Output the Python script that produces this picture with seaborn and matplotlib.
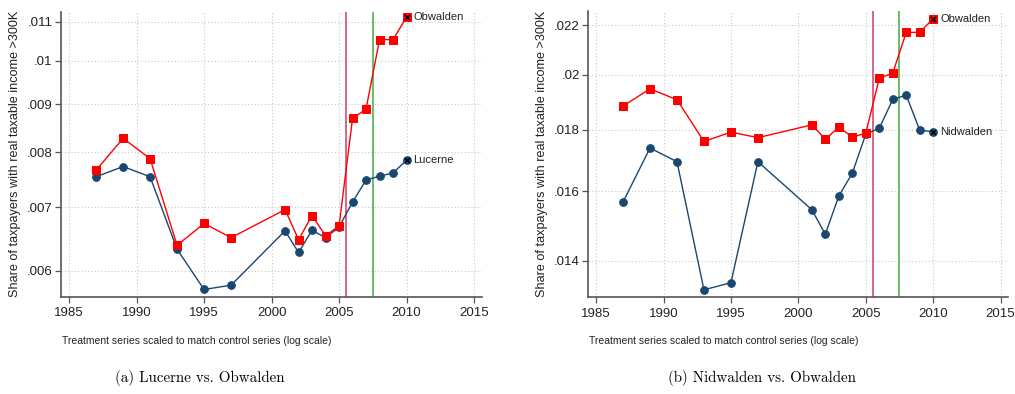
import matplotlib
matplotlib.use("Agg")
import matplotlib.pyplot as plt
import matplotlib.ticker as mticker
import seaborn as sns
import pandas as pd

years = [1987, 1989, 1991, 1993, 1995, 1997, 2001, 2002, 2003, 2004, 2005,
         2006, 2007, 2008, 2009, 2010]

# Panel (a): Lucerne (control) vs. Obwalden (treatment, scaled)
obwalden_a = [0.00766, 0.00828, 0.00788, 0.00638, 0.00673, 0.00650, 0.00696,
              0.00647, 0.00686, 0.00653, 0.00669, 0.00869, 0.00889, 0.01053,
              0.01053, 0.01112]
lucerne = [0.00754, 0.00773, 0.00754, 0.00632, 0.00573, 0.00579, 0.00661,
           0.00627, 0.00662, 0.00650, 0.00667, 0.00709, 0.00748, 0.00755,
           0.00761, 0.00785]

# Panel (b): Nidwalden (control) vs. Obwalden (treatment, scaled)
obwalden_b = [0.01884, 0.01947, 0.01907, 0.01760, 0.01792, 0.01773, 0.01817,
              0.01768, 0.01809, 0.01775, 0.01788, 0.01987, 0.02007, 0.02170,
              0.02170, 0.02228]
nidwalden = [0.01567, 0.01738, 0.01693, 0.01324, 0.01342, 0.01693, 0.01544,
             0.01473, 0.01585, 0.01656, 0.01785, 0.01805, 0.01908, 0.01924,
             0.01799, 0.01793]

yticks_a = [0.006, 0.007, 0.008, 0.009, 0.010, 0.011]
ytick_labels_a = [".006", ".007", ".008", ".009", ".01", ".011"]
yticks_b = [0.014, 0.016, 0.018, 0.020, 0.022]
ytick_labels_b = [".014", ".016", ".018", ".02", ".022"]
xticks = [1985, 1990, 1995, 2000, 2005, 2010, 2015]
reform_years = [2005.5, 2007.5]

ylabel = "Share of taxpayers with real taxable income >300K"
xlabel = "Treatment series scaled to match control series (log scale)"
captions = ["(a) Lucerne vs. Obwalden", "(b) Nidwalden vs. Obwalden"]

sns.set_theme(style="white")
plt.rcParams['font.family'] = ['Liberation Sans', 'DejaVu Sans']

RED = "#ff0000"
NAVY = "#1a476f"
VLINE_COLORS = ["#d9587c", "#5cb85c"]
SPINE = "#555555"

fig = plt.figure(figsize=(10.15, 3.94), dpi=100)
ax_a = fig.add_axes([0.0601, 0.2462, 0.4145, 0.7241])
ax_b = fig.add_axes([0.5793, 0.2454, 0.4141, 0.7267])

panels = [
    (ax_a, obwalden_a, lucerne, "Lucerne", yticks_a, ytick_labels_a, (0.005626, 0.01127)),
    (ax_b, obwalden_b, nidwalden, "Nidwalden", yticks_b, ytick_labels_b, (0.01305, 0.02261)),
]

for ax, treat, ctrl, cname, yt, ytl, ylim in panels:
    ax.set_yscale("log")
    # grid
    for xt in xticks:
        ax.axvline(xt, color="#c8c8c8", lw=0.8, ls=(0, (1, 2)), zorder=0)
    for y in yt:
        ax.axhline(y, color="#c8c8c8", lw=0.8, ls=(0, (1, 2)), zorder=0)
    for xv, c in zip(reform_years, VLINE_COLORS):
        ax.axvline(xv, color=c, lw=1.3, zorder=1)
    df_t = pd.DataFrame({"year": years, "val": treat})
    df_c = pd.DataFrame({"year": years, "val": ctrl})
    sns.lineplot(data=df_c, x="year", y="val", ax=ax, color=NAVY, lw=1.0,
                 marker="o", markersize=5.5, markeredgecolor=NAVY, zorder=3)
    sns.lineplot(data=df_t, x="year", y="val", ax=ax, color=RED, lw=1.0,
                 marker="s", markersize=5.3, markeredgecolor=RED, zorder=4)
    # end markers
    sns.scatterplot(x=[years[-1]], y=[treat[-1]], ax=ax, marker="x", color="black",
                    s=14, linewidth=1.0, zorder=5)
    sns.scatterplot(x=[years[-1]], y=[ctrl[-1]], ax=ax, marker="x", color="black",
                    s=14, linewidth=1.0, zorder=5)
    ax.annotate("Obwalden", (years[-1], treat[-1]), xytext=(5, 0),
                textcoords="offset points", va="center", ha="left", fontsize=8,
                color="#222222")
    ax.annotate(cname, (years[-1], ctrl[-1]), xytext=(5, 0),
                textcoords="offset points", va="center", ha="left", fontsize=8,
                color="#222222")

    ax.set_xlim(1984.4, 2015.57)
    ax.set_ylim(*ylim)
    ax.set_xticks(xticks)
    ax.set_xticklabels([str(x) for x in xticks], fontsize=9.5, color="#222222")
    ax.yaxis.set_major_locator(mticker.FixedLocator(yt))
    ax.yaxis.set_major_formatter(mticker.FixedFormatter(ytl))
    ax.yaxis.set_minor_locator(mticker.NullLocator())
    ax.tick_params(axis="y", labelsize=9.5, labelcolor="#222222", pad=2)
    ax.tick_params(axis="both", which="major", direction="out", length=4,
                   width=0.9, color=SPINE, left=True, bottom=True)
    for s in ["top", "right"]:
        ax.spines[s].set_visible(False)
    for s in ["left", "bottom"]:
        ax.spines[s].set_color(SPINE)
        ax.spines[s].set_linewidth(1.2)
    ax.set_ylabel(ylabel, fontsize=9.1, color="#222222", labelpad=4)
    ax.set_xlabel("")
    ax.grid(False)

# x-axis notes
fig.text(62 / 1015, 1 - 341 / 394, xlabel, fontsize=7.5, color="#222222",
         ha="left", va="center")
fig.text(589 / 1015, 1 - 341 / 394, xlabel, fontsize=7.5, color="#222222",
         ha="left", va="center")

# captions
fig.text(200 / 1015, 1 - 378 / 394, captions[0], fontsize=10.8, fontname="cmr10",
         ha="center", va="center", color="black")
fig.text(762 / 1015, 1 - 378 / 394, captions[1], fontsize=10.8, fontname="cmr10",
         ha="center", va="center", color="black")

fig.savefig("out.png", dpi=100)
